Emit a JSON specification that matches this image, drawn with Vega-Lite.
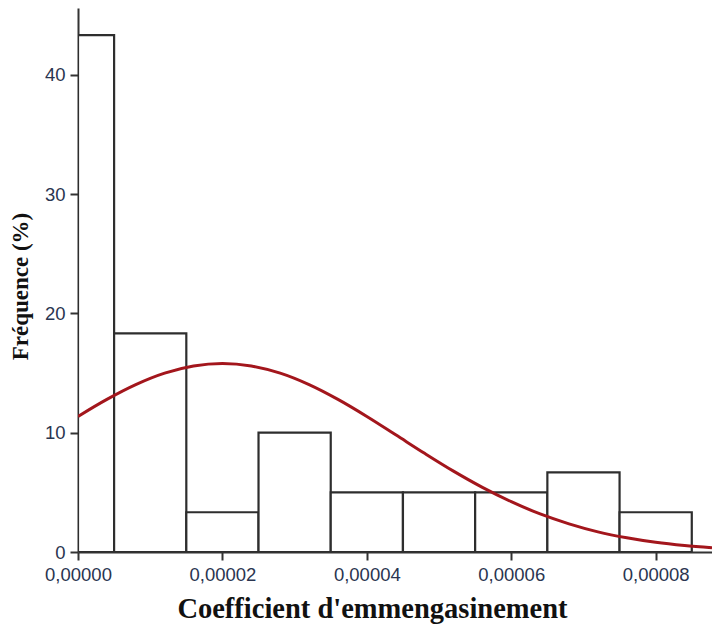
{
  "$schema": "https://vega.github.io/schema/vega-lite/v6.json",
  "width": 634,
  "height": 544,
  "autosize": {"type": "none"},
  "padding": {"left": 78, "top": 8, "right": 0, "bottom": 77},
  "background": "white",
  "config": {
    "view": {"stroke": null},
    "axis": {"grid": false}
  },
  "datasets": {
    "bins": [
      {"x0": 0.0, "x1": 0.000005, "freq": 43.33},
      {"x0": 0.000005, "x1": 0.000015, "freq": 18.33},
      {"x0": 0.000015, "x1": 0.000025, "freq": 3.33},
      {"x0": 0.000025, "x1": 0.000035, "freq": 10.0},
      {"x0": 0.000035, "x1": 0.000045, "freq": 5.0},
      {"x0": 0.000045, "x1": 0.000055, "freq": 5.0},
      {"x0": 0.000055, "x1": 0.000065, "freq": 5.0},
      {"x0": 0.000065, "x1": 0.000075, "freq": 6.67},
      {"x0": 0.000075, "x1": 0.000085, "freq": 3.33}
    ],
    "curve": [
      {"x": 0.0, "y": 11.36},
      {"x": 0.000004, "y": 12.79},
      {"x": 0.000008, "y": 14.03},
      {"x": 0.000012, "y": 14.99},
      {"x": 0.000016, "y": 15.59},
      {"x": 0.00002, "y": 15.8},
      {"x": 0.000024, "y": 15.59},
      {"x": 0.000028, "y": 14.99},
      {"x": 0.000032, "y": 14.03},
      {"x": 0.000036, "y": 12.79},
      {"x": 0.00004, "y": 11.36},
      {"x": 0.000044, "y": 9.82},
      {"x": 0.000048, "y": 8.27},
      {"x": 0.000052, "y": 6.78},
      {"x": 0.000056, "y": 5.42},
      {"x": 0.00006, "y": 4.22},
      {"x": 0.000064, "y": 3.19},
      {"x": 0.000068, "y": 2.36},
      {"x": 0.000072, "y": 1.69},
      {"x": 0.000076, "y": 1.19},
      {"x": 0.00008, "y": 0.81},
      {"x": 0.000084, "y": 0.54},
      {"x": 0.0000878, "y": 0.35}
    ]
  },
  "layer": [
    {
      "data": {"name": "bins"},
      "mark": {"type": "bar", "fill": "white", "stroke": "#2e2e2e", "strokeWidth": 2.2, "clip": true},
      "encoding": {
        "x": {
          "field": "x0", "type": "quantitative",
          "scale": {"domain": [0, 0.0000878], "nice": false, "zero": false},
          "axis": {
            "title": "Coefficient d'emmengasinement",
            "values": [0, 0.00002, 0.00004, 0.00006, 0.00008],
            "labelExpr": "replace(format(datum.value, '.5f'), '.', ',')",
            "labelFont": "Liberation Sans", "labelFontSize": 18.5, "labelColor": "#2a3550",
            "labelPadding": 5, "labelFlush": false, "labelOverlap": false,
            "domainColor": "#333333", "domainWidth": 2,
            "tickColor": "#333333", "tickWidth": 2, "tickSize": 8,
            "titleFont": "Liberation Serif", "titleFontSize": 28.5, "titleFontWeight": "bold",
            "titleColor": "#111111", "titlePadding": 11, "titleX": 294
          }
        },
        "x2": {"field": "x1"},
        "y": {
          "field": "freq", "type": "quantitative",
          "scale": {"domain": [0, 45.6], "nice": false},
          "axis": {
            "title": "Fréquence (%)",
            "values": [0, 10, 20, 30, 40],
            "labelFont": "Liberation Sans", "labelFontSize": 18.5, "labelColor": "#2a3550",
            "labelPadding": 5,
            "domainColor": "#333333", "domainWidth": 2,
            "tickColor": "#333333", "tickWidth": 2, "tickSize": 8,
            "titleFont": "Liberation Serif", "titleFontSize": 23, "titleFontWeight": "bold",
            "titleColor": "#111111", "titlePadding": 12, "titleY": 278
          }
        },
        "y2": {"datum": 0}
      }
    },
    {
      "data": {"name": "curve"},
      "mark": {"type": "line", "color": "#a3161c", "strokeWidth": 3, "clip": true, "interpolate": "monotone"},
      "encoding": {
        "x": {"field": "x", "type": "quantitative"},
        "y": {"field": "y", "type": "quantitative"}
      }
    }
  ]
}
